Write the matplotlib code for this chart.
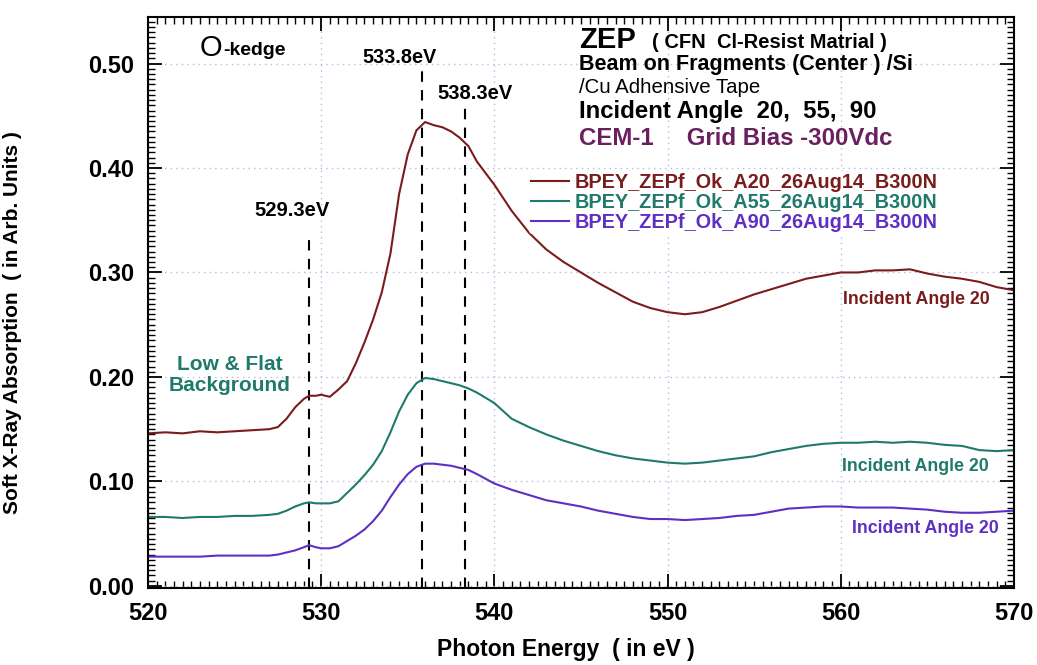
import matplotlib
matplotlib.use("Agg")
import matplotlib.pyplot as plt
from matplotlib.ticker import MultipleLocator, FormatStrFormatter
from matplotlib.lines import Line2D

plt.rcParams['font.family'] = ['Liberation Sans', 'DejaVu Sans']

# photon energy (eV) and absorption
energy = [520, 521, 522, 523, 524, 525, 526, 527, 527.5, 528, 528.5, 529, 529.3,
          529.7, 530, 530.5, 531, 531.5, 532, 532.5, 533, 533.5, 534, 534.5, 535,
          535.5, 536, 536.5, 537, 537.5, 538, 538.5, 539, 540, 541, 542, 543, 544,
          545, 546, 547, 548, 549, 550, 551, 552, 553, 554, 555, 556, 557, 558,
          559, 560, 561, 562, 563, 564, 565, 566, 567, 568, 569, 570]

a20 = [0.146, 0.147, 0.146, 0.148, 0.147, 0.148, 0.149, 0.150, 0.152, 0.160, 0.171,
       0.179, 0.182, 0.182, 0.183, 0.181, 0.188, 0.196, 0.213, 0.233, 0.255, 0.281,
       0.318, 0.375, 0.413, 0.436, 0.444, 0.441, 0.439, 0.435, 0.429, 0.421, 0.406,
       0.384, 0.359, 0.338, 0.322, 0.310, 0.300, 0.290, 0.281, 0.272, 0.266, 0.262,
       0.260, 0.262, 0.267, 0.273, 0.279, 0.284, 0.289, 0.294, 0.297, 0.300, 0.300,
       0.302, 0.302, 0.303, 0.299, 0.296, 0.294, 0.291, 0.286, 0.283]

a55 = [0.066, 0.066, 0.065, 0.066, 0.066, 0.067, 0.067, 0.068, 0.069, 0.072, 0.076,
       0.079, 0.080, 0.079, 0.079, 0.079, 0.081, 0.089, 0.097, 0.106, 0.116, 0.129,
       0.147, 0.167, 0.183, 0.194, 0.199, 0.198, 0.196, 0.194, 0.192, 0.189, 0.185,
       0.175, 0.160, 0.152, 0.145, 0.139, 0.134, 0.129, 0.125, 0.122, 0.120, 0.118,
       0.117, 0.118, 0.120, 0.122, 0.124, 0.128, 0.131, 0.134, 0.136, 0.137, 0.137,
       0.138, 0.137, 0.138, 0.137, 0.135, 0.134, 0.130, 0.129, 0.130]

a90 = [0.028, 0.028, 0.028, 0.028, 0.029, 0.029, 0.029, 0.029, 0.030, 0.032, 0.034,
       0.037, 0.039, 0.037, 0.036, 0.036, 0.038, 0.043, 0.048, 0.054, 0.062, 0.072,
       0.085, 0.097, 0.107, 0.114, 0.117, 0.117, 0.116, 0.115, 0.113, 0.111, 0.107,
       0.098, 0.092, 0.087, 0.082, 0.079, 0.076, 0.072, 0.069, 0.066, 0.064, 0.064,
       0.063, 0.064, 0.065, 0.067, 0.068, 0.071, 0.074, 0.075, 0.076, 0.076, 0.075,
       0.075, 0.075, 0.074, 0.073, 0.071, 0.070, 0.070, 0.071, 0.072]

series_names = ["BPEY_ZEPf_Ok_A20_26Aug14_B300N",
                "BPEY_ZEPf_Ok_A55_26Aug14_B300N",
                "BPEY_ZEPf_Ok_A90_26Aug14_B300N"]
colors = ["#7a1c1c", "#1f7a6c", "#5f2fc4"]

# marked peaks: line position, label, top of dashed line
peak_pos = [529.3, 535.8, 538.3]
peak_labels = ["529.3eV", "533.8eV", "538.3eV"]
peak_top = [0.331, 0.497, 0.460]

fig = plt.figure(figsize=(10.37, 6.65), dpi=100)
ax = fig.add_axes([0.1427, 0.1158, 0.835, 0.8586])

for y, c in zip([a20, a55, a90], colors):
    ax.plot(energy, y, color=c, lw=1.5)

ax.set_xlim(520, 570)
ax.set_ylim(-0.002, 0.5445)

for x, t in zip(peak_pos, peak_top):
    ax.vlines(x, -0.002, t, colors='black', linestyles=(0, (5, 4)), lw=1.5, zorder=1)

ax.xaxis.set_major_locator(MultipleLocator(10))
ax.xaxis.set_minor_locator(MultipleLocator(0.5))
ax.yaxis.set_major_locator(MultipleLocator(0.1))
ax.yaxis.set_minor_locator(MultipleLocator(0.005))
ax.yaxis.set_major_formatter(FormatStrFormatter('%.2f'))
ax.tick_params(which='both', direction='in', top=True, right=True)
ax.tick_params(which='major', length=10, width=1.3)
ax.tick_params(which='minor', length=5, width=1.0)
ax.tick_params(axis='y', which='major', labelsize=17, pad=10)
ax.tick_params(axis='x', which='major', labelsize=17, pad=10)
for lb in ax.get_yticklabels() + ax.get_xticklabels():
    lb.set_fontweight('bold')
for s in ax.spines.values():
    s.set_linewidth(1.5)

ax.grid(True, which='major', color='#b8b8e6', ls=(0, (1, 3)), lw=1.0)
ax.set_axisbelow(True)

ax.set_xlabel("Photon Energy  ( in eV )", fontsize=16.5, fontweight='bold')
ax.xaxis.set_label_coords(0.483, -0.087)
ax.set_ylabel("Soft X-Ray Absorption  ( in Arb. Units )", fontsize=15,
              fontweight='bold')
ax.yaxis.set_label_coords(-0.145, 0.465)

# annotations
ax.text(523.0, 0.515, "O", fontsize=21, va='center', ha='left')
ax.text(524.35, 0.512, "-kedge", fontsize=14, fontweight='bold', va='center', ha='left')
ax.text(534.5, 0.506, peak_labels[1], fontsize=14.3, fontweight='bold', ha='center', va='center')
ax.text(536.7, 0.471, peak_labels[2], fontsize=14.5, fontweight='bold', ha='left', va='center')
ax.text(528.3, 0.359, peak_labels[0], fontsize=14.5, fontweight='bold', ha='center', va='center')

ax.text(544.9, 0.5225, "ZEP", fontsize=21, fontweight='bold', ha='left', va='center')
ax.text(549.1, 0.520, "( CFN  Cl-Resist Matrial )", fontsize=14.5, fontweight='bold',
        ha='left', va='center')
ax.text(544.9, 0.4995, "Beam on Fragments (Center ) /Si", fontsize=15.5, fontweight='bold',
        ha='left', va='center')
ax.text(544.9, 0.4775, "/Cu Adhensive Tape", fontsize=14.7, ha='left', va='center')
ax.text(544.9, 0.4536, "Incident Angle  20,  55,  90", fontsize=17.3, fontweight='bold',
        ha='left', va='center')
ax.text(544.9, 0.4278, "CEM-1     Grid Bias -300Vdc", fontsize=17.3, fontweight='bold',
        color='#6b1f5e', ha='left', va='center')

ax.text(524.7, 0.202, "Low & Flat\nBackground", fontsize=15, fontweight='bold',
        color=colors[1], ha='center', va='center', linespacing=1.1)
ax.text(564.35, 0.274, "Incident Angle 20", fontsize=12.8, fontweight='bold',
        color=colors[0], ha='center', va='center')
ax.text(564.3, 0.114, "Incident Angle 20", fontsize=12.8, fontweight='bold',
        color=colors[1], ha='center', va='center')
ax.text(564.9, 0.0545, "Incident Angle 20", fontsize=12.8, fontweight='bold',
        color=colors[2], ha='center', va='center')

handles = [Line2D([0], [0], color=c, lw=1.5) for c in colors]
leg = ax.legend(handles, series_names, loc='upper left', bbox_to_anchor=(0.429, 0.748),
                handlelength=1.9, handletextpad=0.3, labelspacing=0.05,
                borderpad=0.1, frameon=True, facecolor='white', edgecolor='none',
                framealpha=1.0, labelcolor='linecolor', prop={'weight': 'bold', 'size': 14.3})

fig.savefig("out.png", dpi=100)
